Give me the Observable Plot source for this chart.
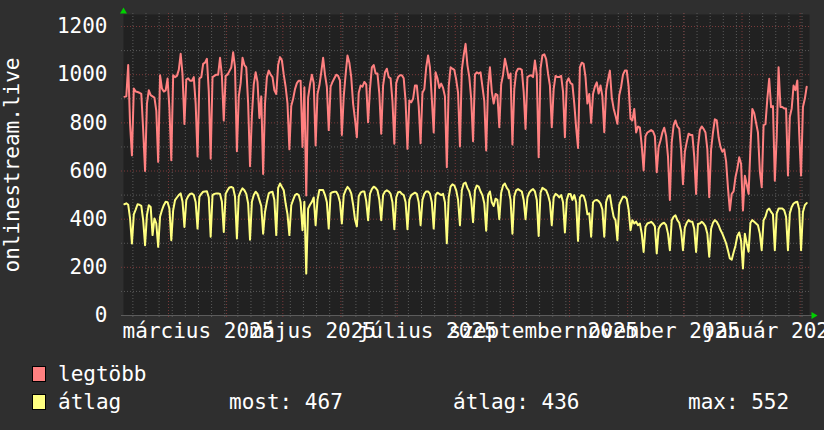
<!DOCTYPE html>
<html><head><meta charset="utf-8">
<script src="https://cdn.jsdelivr.net/npm/d3@7"></script>
<script src="https://cdn.jsdelivr.net/npm/@observablehq/plot@0.6"></script>
<style>
html,body{margin:0;padding:0;background:#2f2f2f;}
#wrap{position:relative;width:824px;height:430px;background:#2f2f2f;font-family:"DejaVu Sans Mono",monospace;color:#fff;font-size:21px;overflow:hidden;}
#chart svg{display:block}
.leg{position:absolute;white-space:pre;line-height:21px;}
.sw{position:absolute;width:12px;height:14px;border:1px solid #000;}
</style></head><body>
<div id="wrap"><div id="chart"></div><div id="legend"></div></div>
<script>
// daily values, first day = 2025-02-05
const firstDay = Date.UTC(2025, 1, 5);
const maxValues = [
908,910,1040,795,665,
943,930,928,925,920,770,600,
880,935,915,910,905,850,638,
998,943,930,935,984,860,645,
998,990,995,1020,1087,1000,795,
980,985,975,975,990,880,660,
985,990,1045,1050,1066,930,651,
990,995,1000,1000,1070,995,810,
995,1000,1015,1030,1093,1030,682,
910,965,1070,1040,1030,880,620,
830,960,1010,970,820,910,588,
880,990,1017,1000,990,935,920,
1040,1073,1060,1000,950,880,690,
870,900,940,965,975,975,700,
948,498,905,960,1000,965,706,
920,955,1010,1070,1000,950,770,
950,970,985,1000,995,975,750,
910,1000,1080,1050,990,880,815,
740,925,955,950,970,960,803,
940,1030,1040,1005,1005,920,755,
955,1010,1025,990,985,890,713,
965,990,998,998,985,890,692,
893,885,900,955,955,870,715,
925,940,1030,1080,1030,900,760,
1010,985,945,963,945,910,616,
950,1031,1025,1020,980,925,702,
1020,1080,1128,1040,990,900,724,
1000,1010,1005,1010,950,890,685,
950,1031,930,880,920,915,782,
960,1000,1066,1030,985,1005,710,
940,1010,1025,1025,1020,930,775,
990,995,998,990,1059,1000,657,
1025,1080,1085,1065,1005,955,782,
940,995,990,990,995,930,740,
970,985,965,960,880,780,696,
1030,1050,1045,990,880,920,800,
920,950,968,922,955,910,761,
935,980,1017,905,860,830,796,
915,950,1000,1017,1017,950,817,
810,858,760,785,780,705,602,
745,760,765,770,765,745,595,
700,727,760,780,745,660,480,
720,790,810,785,776,690,545,
680,720,755,750,750,660,505,
700,770,785,775,760,690,491,
690,760,815,810,740,700,680,
690,640,530,436,505,515,574,
610,657,630,436,580,545,505,
700,858,840,800,760,600,533,
790,795,900,983,865,870,560,
740,1031,866,866,860,860,581,
825,860,955,936,976,756,581,
866,900,950
];
const avgValues = [
462,466,460,403,299,
420,440,462,460,455,396,292,
417,458,451,334,403,382,285,
410,437,458,472,470,444,313,
437,479,490,500,507,472,368,
479,495,505,507,500,470,361,
493,505,514,515,516,490,327,
500,505,507,507,505,472,347,
505,520,532,534,530,493,320,
495,515,528,520,505,465,315,
472,500,514,505,480,455,340,
430,472,507,512,514,480,334,
530,548,534,520,465,420,334,
458,480,500,505,500,470,354,
472,174,444,460,472,490,375,
480,521,521,521,500,470,361,
507,512,514,514,500,470,382,
500,520,534,525,507,460,400,
370,495,510,515,515,475,396,
505,525,535,530,520,480,396,
500,515,520,515,505,470,358,
490,512,514,505,500,470,358,
480,500,505,510,505,470,375,
480,505,515,515,505,470,361,
500,510,505,500,505,470,300,
490,535,545,540,520,480,375,
520,548,552,530,515,480,388,
520,540,535,515,500,465,352,
500,515,470,455,485,480,400,
510,540,548,530,520,480,340,
495,520,525,520,515,480,400,
490,510,520,525,515,480,330,
510,530,525,520,500,470,375,
490,505,500,490,500,470,345,
480,505,505,480,500,470,310,
490,500,497,472,420,424,327,
470,478,480,475,465,440,327,
472,495,500,451,410,396,313,
460,478,493,493,485,440,354,
396,382,390,375,382,340,264,
368,382,385,389,382,370,258,
360,375,382,385,375,340,271,
396,410,416,396,385,350,271,
365,385,396,390,389,360,264,
380,382,389,382,370,340,244,
360,385,396,389,375,355,340,
320,300,270,237,232,262,290,
330,345,310,195,340,300,265,
385,396,389,382,375,340,271,
396,410,437,444,430,420,271,
424,444,444,444,437,410,271,
424,451,465,470,472,440,271,
430,458,467
];
const seriesNames = ["legtöbb", "átlag"];
const seriesColors = ["#ff8080", "#ffff80"];
const yTicks = [0, 200, 400, 600, 800, 1000, 1200];
const yMinor = [100, 300, 500, 700, 900, 1100];
const monthLabels = ["március 2025", "május 2025", "július 2025", "szeptember 2025", "november 2025", "január 2026"];
const labelDates = ["2025-03-17", "2025-05-17", "2025-07-17", "2025-09-17", "2025-11-17", "2026-01-17"];
const statLabels = ["most", "átlag", "max"];
const statValues = [467, 436, 552];
const axisTitle = "onlinestream.live";

const xDomain = [new Date(Date.UTC(2025, 1, 5)), new Date(Date.UTC(2026, 1, 6))];
const dayDate = i => new Date(firstDay + (i + 0.5) * 864e5);
const maxRows = maxValues.map((v, i) => ({date: dayDate(i), value: v}));
const avgRows = avgValues.map((v, i) => ({date: dayDate(i), value: v}));
const weeks = d3.utcMonday.range(xDomain[0], xDomain[1]);
const months = d3.utcMonth.range(xDomain[0], xDomain[1]);
const labelTicks = labelDates.map(s => new Date(s + "T00:00:00Z"));

const grey = "#5a5a5a", red = "#7c3b3b";
const chart = Plot.plot({
  width: 824, height: 345,
  marginLeft: 123, marginRight: 15, marginTop: 14, marginBottom: 30,
  style: {background: "#2f2f2f", color: "#ffffff", fontFamily: "DejaVu Sans Mono", fontSize: "21px", overflow: "visible"},
  x: {type: "utc", domain: xDomain},
  y: {domain: [0, 1250]},
  marks: [
    Plot.frame({fill: "#212121", stroke: "none"}),
    Plot.ruleY(yMinor, {stroke: grey, strokeDasharray: "1,2", insetLeft: -2, insetRight: -2}),
    Plot.ruleX(weeks, {stroke: grey, strokeDasharray: "1,2", insetTop: -1, insetBottom: -3}),
    Plot.ruleY(yTicks, {stroke: red, strokeDasharray: "1,2", insetLeft: -2, insetRight: -2}),
    Plot.ruleX(months, {stroke: red, strokeDasharray: "1,2", insetTop: -1, insetBottom: -3}),
    Plot.ruleY([0], {stroke: "#5c5c5c", insetLeft: -2, insetRight: -3}),
    Plot.axisY({ticks: yTicks, tickSize: 0, tickPadding: 16, tickFormat: d => `${d}`, label: null, fill: "#ffffff"}),
    Plot.axisX({ticks: labelTicks, tickSize: 0, tickPadding: 8, tickFormat: (d, i) => monthLabels[i], label: null, fill: "#ffffff"}),
    Plot.text([axisTitle], {frameAnchor: "left", rotate: -90, dx: -104.5, lineAnchor: "bottom", textAnchor: "middle", fill: "#ffffff", fontSize: 21}),
    Plot.line(maxRows, {x: "date", y: "value", stroke: seriesColors[0], strokeWidth: 2}),
    Plot.line(avgRows, {x: "date", y: "value", stroke: seriesColors[1], strokeWidth: 2}),
    Plot.dot([xDomain[0]], {x: d => d, y: () => 1250, symbol: "triangle", r: 2.6, fill: "#00d000", stroke: "none", dy: -3}),
    Plot.dot([xDomain[1]], {x: d => d, y: () => 0, symbol: "triangle", r: 2.6, fill: "#00d000", stroke: "none", rotate: 90, dx: 4})
  ]
});
document.getElementById("chart").appendChild(chart);

// legend below the svg
const legend = document.getElementById("legend");
const rowsTop = [364, 392];
seriesNames.forEach((name, k) => {
  const sw = document.createElement("div");
  sw.className = "sw";
  sw.style.left = "32px"; sw.style.top = (rowsTop[k] + 2) + "px";
  sw.style.background = seriesColors[k];
  legend.appendChild(sw);
  const t = document.createElement("span");
  t.className = "leg"; t.textContent = name;
  t.style.left = "58px"; t.style.top = rowsTop[k] + "px";
  legend.appendChild(t);
});
const statLeft = [229, 453, 688];
statLabels.forEach((s, k) => {
  const t = document.createElement("span");
  t.className = "leg"; t.textContent = `${s}: ${statValues[k]}`;
  t.style.left = statLeft[k] + "px"; t.style.top = rowsTop[1] + "px";
  legend.appendChild(t);
});
</script>
</body></html>
